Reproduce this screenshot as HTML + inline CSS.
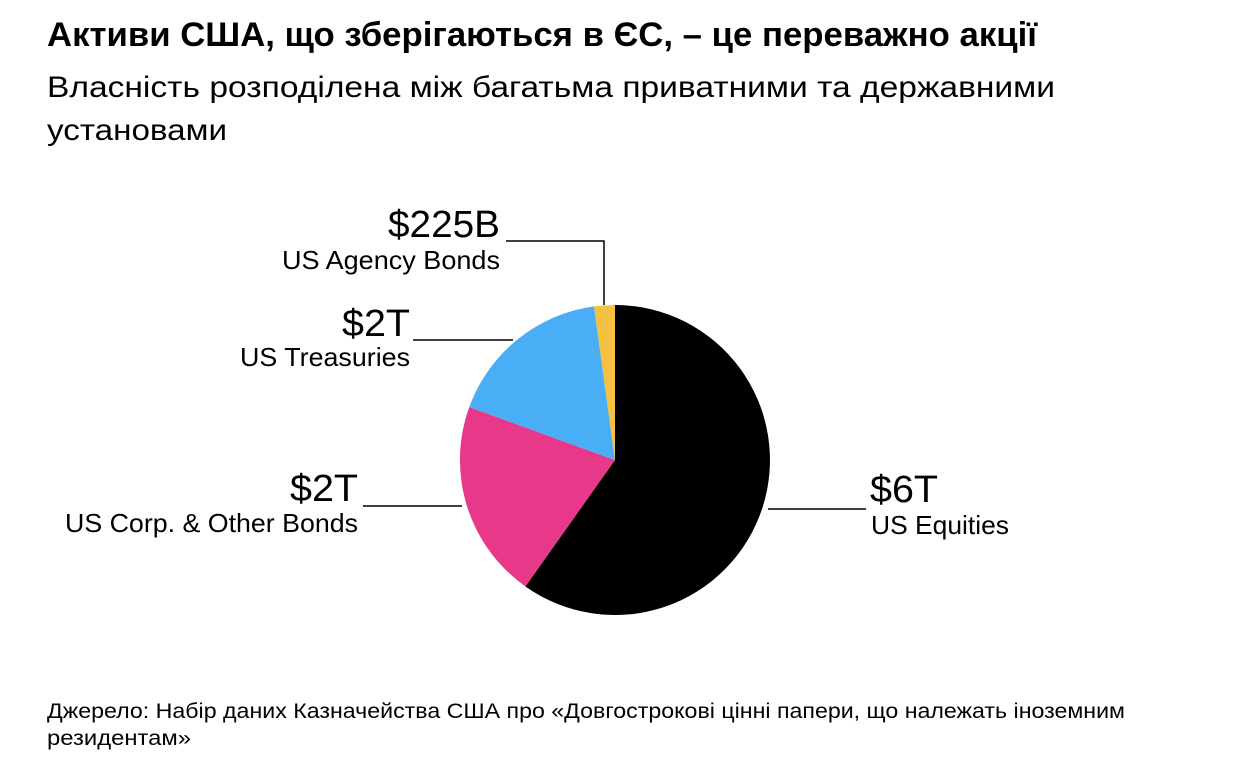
<!DOCTYPE html>
<html><head><meta charset="utf-8"><style>
html,body{margin:0;padding:0;background:#fff;}
svg{display:block;font-family:"Liberation Sans","DejaVu Sans",sans-serif;}
</style></head><body>
<svg width="1244" height="782" viewBox="0 0 1244 782">
<text x="47" y="46" font-size="34" font-weight="bold" textLength="990" lengthAdjust="spacingAndGlyphs">Активи США, що зберігаються в ЄС, – це переважно акції</text>
<text x="47" y="97" font-size="30" textLength="1008" lengthAdjust="spacingAndGlyphs">Власність розподілена між багатьма приватними та державними</text>
<text x="47" y="140" font-size="30" textLength="180" lengthAdjust="spacingAndGlyphs">установами</text>

<path d="M615,460 L615,305 A155,155 0 1 1 525.4,586.5 Z" fill="#000"/>
<path d="M615,460 L525.4,586.5 A155,155 0 0 1 469.3,407 Z" fill="#e8388a"/>
<path d="M615,460 L469.3,407 A155,155 0 0 1 594,306.4 Z" fill="#4aaef7"/>
<path d="M615,460 L594,306.4 A155,155 0 0 1 615,305 Z" fill="#f5c141"/>

<g stroke="#000" stroke-width="1.5" fill="none">
<polyline points="506,241 604,241 604,305"/>
<line x1="413" y1="340" x2="513" y2="340"/>
<line x1="363" y1="506" x2="462" y2="506"/>
<line x1="768" y1="509" x2="866" y2="509"/>
</g>

<g font-size="38" text-anchor="end">
<text x="500" y="237" textLength="112" lengthAdjust="spacingAndGlyphs">$225B</text>
<text x="410" y="336" textLength="68" lengthAdjust="spacingAndGlyphs">$2T</text>
<text x="358" y="501" textLength="68" lengthAdjust="spacingAndGlyphs">$2T</text>
</g>
<text x="870" y="502" font-size="38" textLength="68" lengthAdjust="spacingAndGlyphs">$6T</text>
<g font-size="26" text-anchor="end">
<text x="500" y="269" textLength="218" lengthAdjust="spacingAndGlyphs">US Agency Bonds</text>
<text x="410" y="366" textLength="170" lengthAdjust="spacingAndGlyphs">US Treasuries</text>
<text x="358" y="532" textLength="293" lengthAdjust="spacingAndGlyphs">US Corp. &amp; Other Bonds</text>
</g>
<text x="871" y="534" font-size="26" textLength="138" lengthAdjust="spacingAndGlyphs">US Equities</text>

<text x="47" y="718" font-size="21" textLength="1078" lengthAdjust="spacingAndGlyphs">Джерело: Набір даних Казначейства США про «Довгострокові цінні папери, що належать іноземним</text>
<text x="47" y="745" font-size="21" textLength="144" lengthAdjust="spacingAndGlyphs">резидентам»</text>
</svg>
</body></html>
